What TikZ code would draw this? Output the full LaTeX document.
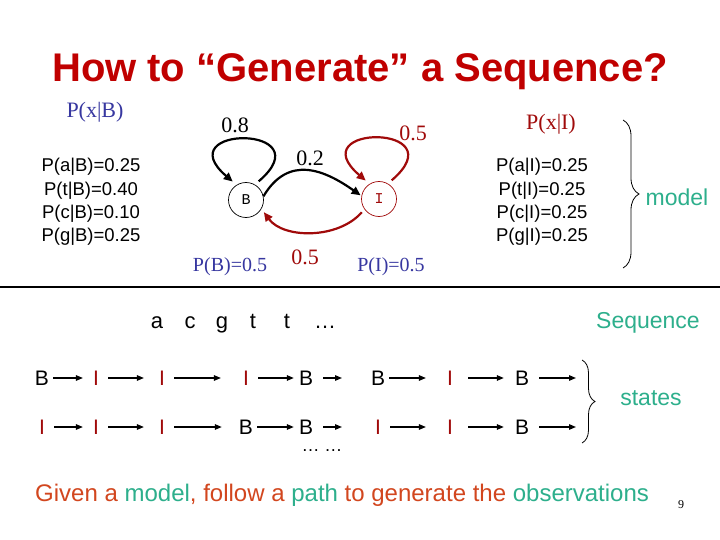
\documentclass[tikz,border=0pt]{standalone}
\usepackage{fontspec}
\setmainfont{Liberation Serif}
\setsansfont{Liberation Sans}
\newfontfamily\monof{Liberation Mono}
\usetikzlibrary{arrows.meta,decorations.pathreplacing}
\definecolor{titlered}{RGB}{192,0,0}
\definecolor{pblue}{RGB}{55,55,160}
\definecolor{dred}{RGB}{160,10,10}
\definecolor{tealc}{RGB}{45,175,140}
\definecolor{orng}{RGB}{210,70,30}
\begin{document}
\begin{tikzpicture}[x=1pt,y=-1pt,
  every node/.style={inner sep=0pt},
  serif/.style={font=\rmfamily\fontsize{22}{26}\selectfont, anchor=base},
  listtxt/.style={font=\sffamily\fontsize{18.5}{23.3}\selectfont, align=center},
  tealtxt/.style={font=\sffamily\fontsize{23}{28}\selectfont, text=tealc, anchor=base},
  seqtxt/.style={font=\sffamily\fontsize{22}{26}\selectfont, anchor=base},
  stB/.style={font=\sffamily\fontsize{21}{25}\selectfont, text height=15pt, text depth=0pt},
  stI/.style={stB, text=dred},
  state/.style={circle, minimum size=35pt, font=\monof\fontsize{15}{17}\selectfont},
  garr/.style={line width=2.2pt, -{Triangle[length=9pt,width=8pt]}},
  sarr/.style={line width=1.3pt, -{Triangle[length=7pt,width=5.5pt]}},
  brc/.style={decorate, line width=0.8pt},
]
\useasboundingbox (0,0) rectangle (720,540);
\fill[white] (0,0) rectangle (720,540);

% title
\node[font=\sffamily\bfseries\fontsize{40}{48}\selectfont, text=titlered, anchor=base] (title) at (360,82) {How to “Generate” a Sequence?};

% emission labels
\node[serif, text=pblue] (pxb) at (95,118) {P(x|B)};
\node[serif, text=dred] (pxi) at (551,130) {P(x|I)};
\node[listtxt] (listB) at (91,202) {P(a|B)=0.25\\P(t|B)=0.40\\P(c|B)=0.10\\P(g|B)=0.25};
\node[listtxt] (listI) at (542,202) {P(a|I)=0.25\\P(t|I)=0.25\\P(c|I)=0.25\\P(g|I)=0.25};

% states
\node[state, draw=black, line width=0.7pt] (B) at (246,200) {B};
\node[state, draw=dred, text=dred, line width=0.7pt] (I) at (379,199) {I};

\draw[garr, shorten <=5pt, shorten >=5pt] (B.60) .. controls +(70,-60) and +(-70,-60) .. (B.122);
\draw[garr, dred, shorten <=5pt, shorten >=5pt] (I.60) .. controls +(70,-60) and +(-70,-60) .. (I.122);
\draw[garr, shorten <=0pt, shorten >=1pt] (B.12) .. controls +(25,-42) and +(-37,-26) .. (I.170);
\draw[garr, dred, shorten <=4pt, shorten >=4pt] (I.215) .. controls +(-26,30) and +(22,30) .. (B.-30);

\node[serif] (l08) at (235,133) {0.8};
\node[serif] (l02) at (310,166) {0.2};
\node[serif, text=dred] (l05a) at (413,141) {0.5};
\node[serif, text=dred] (l05b) at (305,264) {0.5};
\node[serif, text=pblue, font=\rmfamily\fontsize{20}{24}\selectfont] (pB) at (230,271) {P(B)=0.5};
\node[serif, text=pblue, font=\rmfamily\fontsize{20}{24}\selectfont] (pI) at (391,271) {P(I)=0.5};

% model brace
\coordinate (mt) at (623,120);
\coordinate (mb) at (623,268);
\draw[brc, decoration={brace, amplitude=16pt, aspect=0.5}] (mt) -- (mb);
\node[tealtxt] (model) at (677,206) {model};

% separator
\coordinate (hl) at (0,287);
\coordinate (hr) at (720,287);
\draw[line width=1.8pt] (hl) -- (hr);

% sequence
\node[seqtxt] (sa) at (157,328) {a};
\node[seqtxt] (sc) at (190,328) {c};
\node[seqtxt] (sg) at (222,328) {g};
\node[seqtxt] (st1) at (253,328) {t};
\node[seqtxt] (st2) at (287,328) {t};
\node[seqtxt] (sd) at (325,328) {…};
\node[tealtxt] (seq) at (648,328) {Sequence};

% state row 1
\node[stB] (a1) at (42,378) {B};
\node[stI] (a2) at (96,378) {I};
\node[stI] (a3) at (162,378) {I};
\node[stI] (a4) at (246,378) {I};
\node[stB] (a5) at (306,378) {B};
\coordinate (a5e) at (342,378);
\node[stB] (a6) at (378,378) {B};
\node[stI] (a7) at (450,378) {I};
\node[stB] (a8) at (522,378) {B};
\coordinate (a8e) at (576,378);
\draw[sarr, shorten <=4pt, shorten >=10pt] (a1) -- (a2);
\draw[sarr, shorten <=9pt, shorten >=15pt] (a2) -- (a3);
\draw[sarr, shorten <=9pt, shorten >=22pt] (a3) -- (a4);
\draw[sarr, shorten <=9pt, shorten >=5pt] (a4) -- (a5);
\draw[sarr, shorten <=10pt] (a5) -- (a5e);
\draw[sarr, shorten <=4pt, shorten >=21pt] (a6) -- (a7);
\draw[sarr, shorten <=15pt, shorten >=11pt] (a7) -- (a8);
\draw[sarr, shorten <=10pt] (a8) -- (a8e);

% state row 2
\node[stI] (b1) at (42,427) {I};
\node[stI] (b2) at (96,427) {I};
\node[stI] (b3) at (162,427) {I};
\node[stB] (b4) at (246,427) {B};
\node[stB] (b5) at (306,427) {B};
\coordinate (b5e) at (342,427);
\node[stI] (b6) at (378,427) {I};
\node[stI] (b7) at (450,427) {I};
\node[stB] (b8) at (522,427) {B};
\coordinate (b8e) at (576,427);
\draw[sarr, shorten <=9pt, shorten >=10pt] (b1) -- (b2);
\draw[sarr, shorten <=9pt, shorten >=15pt] (b2) -- (b3);
\draw[sarr, shorten <=9pt, shorten >=17pt] (b3) -- (b4);
\draw[sarr, shorten <=4pt, shorten >=5pt] (b4) -- (b5);
\draw[sarr, shorten <=10pt] (b5) -- (b5e);
\draw[sarr, shorten <=9pt, shorten >=21pt] (b6) -- (b7);
\draw[sarr, shorten <=15pt, shorten >=11pt] (b7) -- (b8);
\draw[sarr, shorten <=10pt] (b8) -- (b8e);

% states brace
\coordinate (st) at (582,360);
\coordinate (sb) at (582,443);
\draw[brc, decoration={brace, amplitude=13pt, aspect=0.5}] (st) -- (sb);
\node[tealtxt] (states) at (651,405) {states};

\node[font=\sffamily\fontsize{18}{20}\selectfont, anchor=base] (dots) at (322,451) {… …};

\node[font=\sffamily\fontsize{24}{28}\selectfont, anchor=base west] (given) at (35,501) {\textcolor{orng}{Given a} \textcolor{tealc}{model}\textcolor{orng}{, follow a} \textcolor{tealc}{path} \textcolor{orng}{to generate the} \textcolor{tealc}{observations}};
\node[font=\rmfamily\fontsize{12}{14}\selectfont, anchor=base] (pg) at (681,508) {9};
\end{tikzpicture}
\end{document}
